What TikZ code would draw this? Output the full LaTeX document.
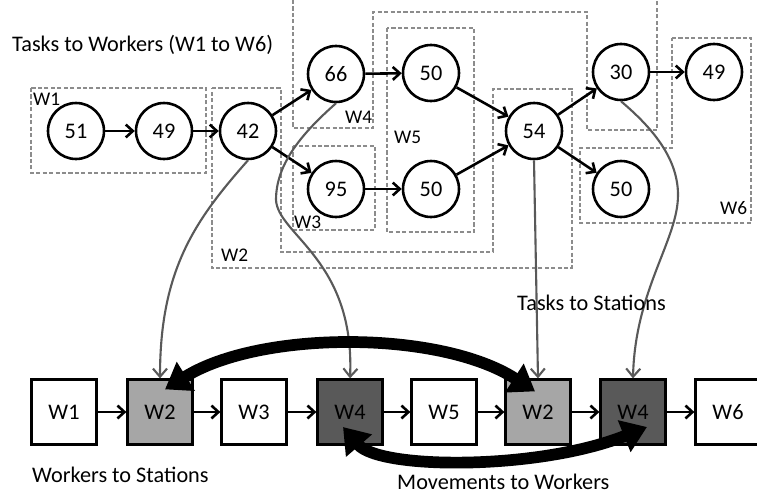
\documentclass[tikz,border=0pt]{standalone}
\usepackage{fontspec}
\setmainfont{Carlito}
\usetikzlibrary{arrows.meta,calc}

\definecolor{boxgray}{HTML}{8C8C8C}
\definecolor{linkgray}{HTML}{595959}
\definecolor{lightfill}{HTML}{A6A6A6}
\definecolor{darkfill}{HTML}{595959}

\tikzstyle{taskdecorate}=[shape=circle,draw,line width=2.2pt,inner sep=0pt,minimum size=1.68cm,font=\fontsize{19}{21}\selectfont]
\tikzstyle{stationdecorate}=[shape=rectangle,draw,line width=2.2pt,inner sep=0pt,minimum size=1.94cm,font=\fontsize{19}{21}\selectfont]
\tikzstyle{arrowdecorate}=[-{Straight Barb[length=6pt,width=11pt]},line width=2.2pt]
\tikzstyle{workerbox}=[draw=boxgray,line width=1.3pt,dash pattern=on 3.5pt off 2pt]
\tikzstyle{boxlabel}=[anchor=west,inner sep=0pt,font=\fontsize{16.5}{18}\selectfont]
\tikzstyle{caption}=[anchor=west,inner sep=0pt,font=\fontsize{19}{21}\selectfont]

\begin{document}
\begin{tikzpicture}[x=0.03cm,y=-0.03cm,
      linkdecorate/.style={-{Straight Barb[length=7pt,width=12pt]},draw=linkgray,line width=1.8pt},
      movedecorate/.style={{Triangle[length=21pt,width=28pt]}-{Triangle[length=21pt,width=28pt]},line width=10pt}]
      \useasboundingbox (0,0) rectangle (757,499);
      \clip (0,0) rectangle (757,499);
      %% worker groups
      \draw[workerbox] (31,88) rectangle (206,173);
      \draw[workerbox] (212,88) -- (281,88) -- (281,252) -- (493,252) -- (493,89)
        -- (572,89) -- (572,268) -- (212,268) -- cycle;
      \draw[workerbox] (293,146) rectangle (375,230);
      \draw[workerbox] (293,0) -- (293,128) -- (373,128) -- (373,12) -- (587,12)
        -- (587,130) -- (657,130) -- (657,0);
      \draw[workerbox] (387,28) rectangle (474,232);
      \draw[workerbox] (672,38) -- (751,38) -- (751,223) -- (580,223) -- (580,148)
        -- (672,148) -- cycle;
      \foreach \txt/\x/\y in {W1/33/99, W2/221/255, W3/294/222, W4/345/117, W5/394/137, W6/720/208}
        \node[boxlabel] at (\x,\y) {\txt};

      %% tasks
      \foreach \nodename/\x/\y/\txt in {t51/76/131/51, t49/164/131/49, t42/248/131/42,
        t66/336/74/66, t95/336/189/95, t50a/431/73/50, t50b/431/189/50, t54/534/131/54,
        t30/621/72/30, t49b/714/72/49, t50c/621/189/50}
      {
        \node (\nodename) at (\x,\y) [taskdecorate] {\txt};
      }
      \path
      \foreach \startnode/\endnode in {t51/t49, t49/t42, t42/t66, t42/t95, t66/t50a,
        t95/t50b, t50a/t54, t50b/t54, t54/t30, t54/t50c, t30/t49b}
      {
        (\startnode) edge[arrowdecorate] (\endnode)
      };

      %% stations
      \foreach \nodename/\x/\shade/\txt in {s1/64/white/W1, s2/160/lightfill/W2, s3/254/white/W3,
        s4/350/darkfill/W4, s5/444/white/W5, s6/538/lightfill/W2, s7/633/darkfill/W4, s8/728/white/W6}
      {
        \node (\nodename) at (\x,412) [stationdecorate,fill=\shade] {\txt};
      }
      \path
      \foreach \startnode/\endnode in {s1/s2, s2/s3, s3/s4, s4/s5, s5/s6, s6/s7, s7/s8}
      {
        (\startnode) edge[arrowdecorate] (\endnode)
      };

      %% tasks to stations
      \draw[linkdecorate] (t42.south) .. controls (195,220) and (160,270) .. (s2.north);
      \draw[linkdecorate] (t66.south) .. controls (300,135) and (276,165) .. (276,200)
        .. controls (278,235) and (355,260) .. (s4.north);
      \draw[linkdecorate] (t54.south) -- (s6.north);
      \draw[linkdecorate] (t30.south) .. controls (655,130) and (678,160) .. (678,195)
        .. controls (678,240) and (635,290) .. (s7.north);

      %% movements
      \draw[movedecorate] ($(s2.north)+(5,11)$) .. controls (260,330) and (440,330) .. ($(s6.north)+(-3,13)$);
      \draw[movedecorate] ($(s4.center)+(-7,15)$) .. controls (380,470) and (540,470) .. ($(s7.center)+(14,15)$);

      %% captions
      \node[caption] (tw) at (12,45) {Tasks to Workers (W1 to W6)};
      \node[caption] (ts) at (517,303) {Tasks to Stations};
      \node[caption] (ws) at (32,475) {Workers to Stations};
      \node[caption] (mw) at (397,482) {Movements to Workers};
    \end{tikzpicture}
\end{document}
